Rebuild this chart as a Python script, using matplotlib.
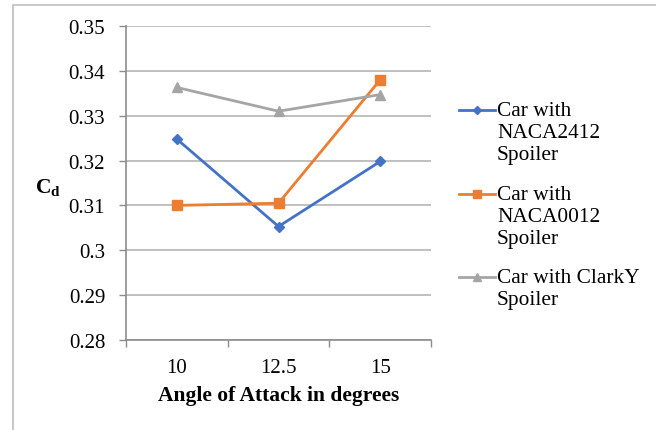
import matplotlib
matplotlib.use("Agg")
import matplotlib.pyplot as plt
from matplotlib.lines import Line2D
from matplotlib.patches import Rectangle

plt.rcParams['font.family'] = ['Liberation Serif', 'DejaVu Serif']
plt.rcParams['mathtext.fontset'] = 'custom'
plt.rcParams['mathtext.rm'] = 'Liberation Serif'
plt.rcParams['mathtext.bf'] = 'Liberation Serif:bold'

angles = ["10", "12.5", "15"]
naca2412 = [0.3248, 0.3053, 0.3198]
naca0012 = [0.3100, 0.3105, 0.3380]
clarky = [0.3363, 0.3310, 0.3347]
labels = ["Car with\nNACA2412\nSpoiler", "Car with\nNACA0012\nSpoiler", "Car with ClarkY\nSpoiler"]
yticks = [0.28, 0.29, 0.30, 0.31, 0.32, 0.33, 0.34, 0.35]
ytick_labels = ["0.28", "0.29", "0.3", "0.31", "0.32", "0.33", "0.34", "0.35"]

styles = [
    dict(color='#4472C4', marker='D', ms=5),
    dict(color='#ED7D31', marker='s', ms=6.5),
    dict(color='#A5A5A5', marker='^', ms=7),
]

W, H = 656, 431
fig = plt.figure(figsize=(W / 100, H / 100), dpi=100)
ax = fig.add_axes([126 / W, 1 - 341 / H, (431 - 126) / W, (341 - 27) / H])

x = list(range(len(angles)))
for series, st in zip([naca2412, naca0012, clarky], styles):
    ax.plot(x, series, lw=2, **st)

ax.set_xlim(-0.5, len(angles) - 0.5)
ax.set_ylim(0.28, 0.35)
ax.set_yticks(yticks)
ax.set_yticklabels(ytick_labels)
ax.set_xticks(x)
ax.set_xticklabels(angles)
ax.set_xticks([i - 0.5 for i in range(len(angles) + 1)], minor=True)
ax.tick_params(axis='x', which='major', length=0, pad=13, labelsize=15)
ax.tick_params(axis='x', which='minor', length=5, color='#8C8C8C', width=1)
ax.tick_params(axis='y', length=5, color='#8C8C8C', width=1, labelsize=15, pad=10)
ax.yaxis.grid(True, color='#B5B5B5', lw=1.2)
ax.set_axisbelow(True)
for s in ['top', 'right']:
    ax.spines[s].set_visible(False)
for s in ['left', 'bottom']:
    ax.spines[s].set_color('#8C8C8C')
    ax.spines[s].set_linewidth(1.2)

ax.set_xlabel("Angle of Attack in degrees", fontsize=15.5, fontweight='bold', labelpad=6)
fig.text(48 / W, 1 - 188 / H, r"$\mathbf{C}_\mathbf{d}$", fontsize=15.5, ha='center', va='center')

# legend: handle beside the first line of each multi-line entry
entry_y = [111, 195, 278]
for lab, st, yy in zip(labels, styles, entry_y):
    yf = 1 - yy / H
    handle = Line2D([459 / W, 477 / W, 495 / W], [yf, yf, yf], transform=fig.transFigure, lw=2,
                    color=st['color'], marker=st['marker'], ms=st['ms'] * 0.85, markevery=[1])
    fig.add_artist(handle)
    fig.text(497 / W, yf + 9 / H, lab, fontsize=15.4, ha='left', va='top', linespacing=1.2)

fig.patches.append(Rectangle((13 / W, -0.01), 1.2, 1 - 6 / H + 0.01, transform=fig.transFigure,
                             fill=False, edgecolor='#BDBDBD', lw=1.2))

fig.savefig("out.png", dpi=100)
